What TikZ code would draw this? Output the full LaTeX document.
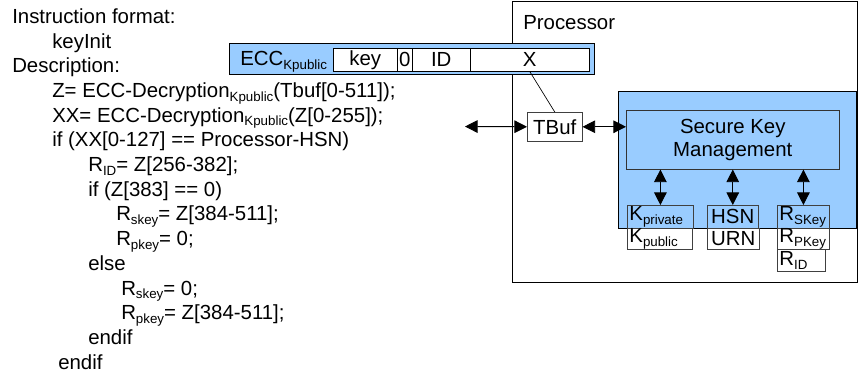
\documentclass[tikz,border=0pt]{standalone}
\usepackage{fontspec}
\setmainfont{Liberation Sans}
\usetikzlibrary{arrows.meta}
\definecolor{kblue}{RGB}{153,204,255}
\newcommand\sbs[1]{\raisebox{-0.35ex}{\fontsize{10pt}{10pt}\selectfont #1}}
\newcommand\fs{\fontsize{15.3pt}{17.5pt}\selectfont}
\begin{document}
\begin{tikzpicture}[x=0.75pt,y=-0.75pt,
  txt/.style={anchor=base west, inner sep=0, font=\fs},
  cell/.style={draw, anchor=north west, inner sep=0, font=\fs},
  smallbox/.style={draw=black!75, anchor=north west, inner xsep=1.6pt, inner ysep=0pt, align=left, font=\fs},
  smallc/.style={draw=black!75, anchor=north west, inner sep=0pt, font=\fs},
  dbl/.style={{Triangle[length=9.5pt,width=9.5pt]}-{Triangle[length=9.5pt,width=9.5pt]}, line width=0.7pt}]
\useasboundingbox (0,0) rectangle (858,376);
% left text
\node[txt] (l0) at (12,23.3) {Instruction format:};
\node[txt] (l1) at (52,48) {keyInit};
\node[txt] (l2) at (12,72.7) {Description:};
\node[txt] (l3) at (52,97.4) {Z= ECC-Decryption\sbs{Kpublic}(Tbuf[0-511]);};
\node[txt] (l4) at (52,122.1) {XX= ECC-Decryption\sbs{Kpublic}(Z[0-255]);};
\node[txt] (l5) at (52,146.8) {if (XX[0-127] == Processor-HSN)};
\node[txt] (l6) at (88,171.5) {R\sbs{ID}= Z[256-382];};
\node[txt] (l7) at (88,196.2) {if (Z[383] == 0)};
\node[txt] (l8) at (116,220.9) {R\sbs{skey}= Z[384-511];};
\node[txt] (l9) at (116,245.6) {R\sbs{pkey}= 0;};
\node[txt] (l10) at (88,270.3) {else};
\node[txt] (l11) at (121,295) {R\sbs{skey}= 0;};
\node[txt] (l12) at (121,319.7) {R\sbs{pkey}= Z[384-511];};
\node[txt] (l13) at (88,344.4) {endif};
\node[txt] (l14) at (58,369.1) {endif};
% processor
\node[draw, line width=1.1pt, anchor=north west, minimum width=345*0.75pt, minimum height=281*0.75pt] (proc) at (512,1) {};
\node[txt] (proclbl) at (523,29.3) {Processor};
% ECC bar
\node[draw, fill=kblue, anchor=north west, minimum width=365*0.75pt, minimum height=31*0.75pt] (eccbar) at (229,43) {};
\node[txt] (ecclbl) at (240,65.5) {ECC\sbs{Kpublic}};
\node[cell, fill=white, minimum width=64*0.75pt, minimum height=23*0.75pt] (key) at (333,48) {key};
\node[cell, fill=white, minimum width=15*0.75pt, minimum height=23*0.75pt] (zero) at (397,48) {0};
\node[cell, fill=white, minimum width=58*0.75pt, minimum height=23*0.75pt] (id) at (412,48) {ID};
\node[cell, fill=white, minimum width=119*0.75pt, minimum height=23*0.75pt] (xcell) at (470,48) {X};
% secure key management
\node[draw, fill=kblue, line width=1.1pt, anchor=north west, minimum width=238*0.75pt, minimum height=137*0.75pt] (skmouter) at (618,91) {};
\node[draw=black!80, fill=kblue, anchor=north west, minimum width=213*0.75pt, minimum height=59*0.75pt, align=center, font=\fs, inner sep=0] (skm) at (626,110) {Secure Key\\Management};
% TBuf
\node[cell, draw=black!75, fill=white, minimum width=55*0.75pt, minimum height=29*0.75pt] (tbuf) at (527,112) {TBuf};
\coordinate (ext) at (465,126.5);
\draw[line width=0.5pt] (xcell.south) -- (tbuf.north);
\draw[dbl] (ext) -- (tbuf.west);
\draw[dbl] (tbuf.east) -- (tbuf.east -| skm.west);
% small boxes
\node[smallbox, text width=62*0.75pt, minimum height=23*0.75pt] (kpriv) at (627,205) {K\sbs{private}};
\node[smallbox, fill=white, text width=61*0.75pt, minimum height=21*0.75pt] (kpub) at (627,228) {K\sbs{public}};
\node[smallc, minimum width=51*0.75pt, minimum height=23*0.75pt] (hsn) at (707,205) {HSN};
\node[smallc, fill=white, minimum width=52*0.75pt, minimum height=21*0.75pt] (urn) at (707,228) {URN};
\node[smallbox, text width=48*0.75pt, minimum height=23*0.75pt] (rskey) at (777,205) {R\sbs{SKey}};
\node[smallbox, fill=white, text width=48*0.75pt, minimum height=21*0.75pt] (rpkey) at (777,228) {R\sbs{PKey}};
\node[smallbox, fill=white, text width=44*0.75pt, minimum height=22*0.75pt] (rid) at (777,249) {R\sbs{ID}};
\draw[dbl] (kpriv.north |- skm.south) -- (kpriv.north);
\draw[dbl] (hsn.north |- skm.south) -- (hsn.north);
\draw[dbl] (rskey.north |- skm.south) -- (rskey.north);
\end{tikzpicture}
\end{document}
